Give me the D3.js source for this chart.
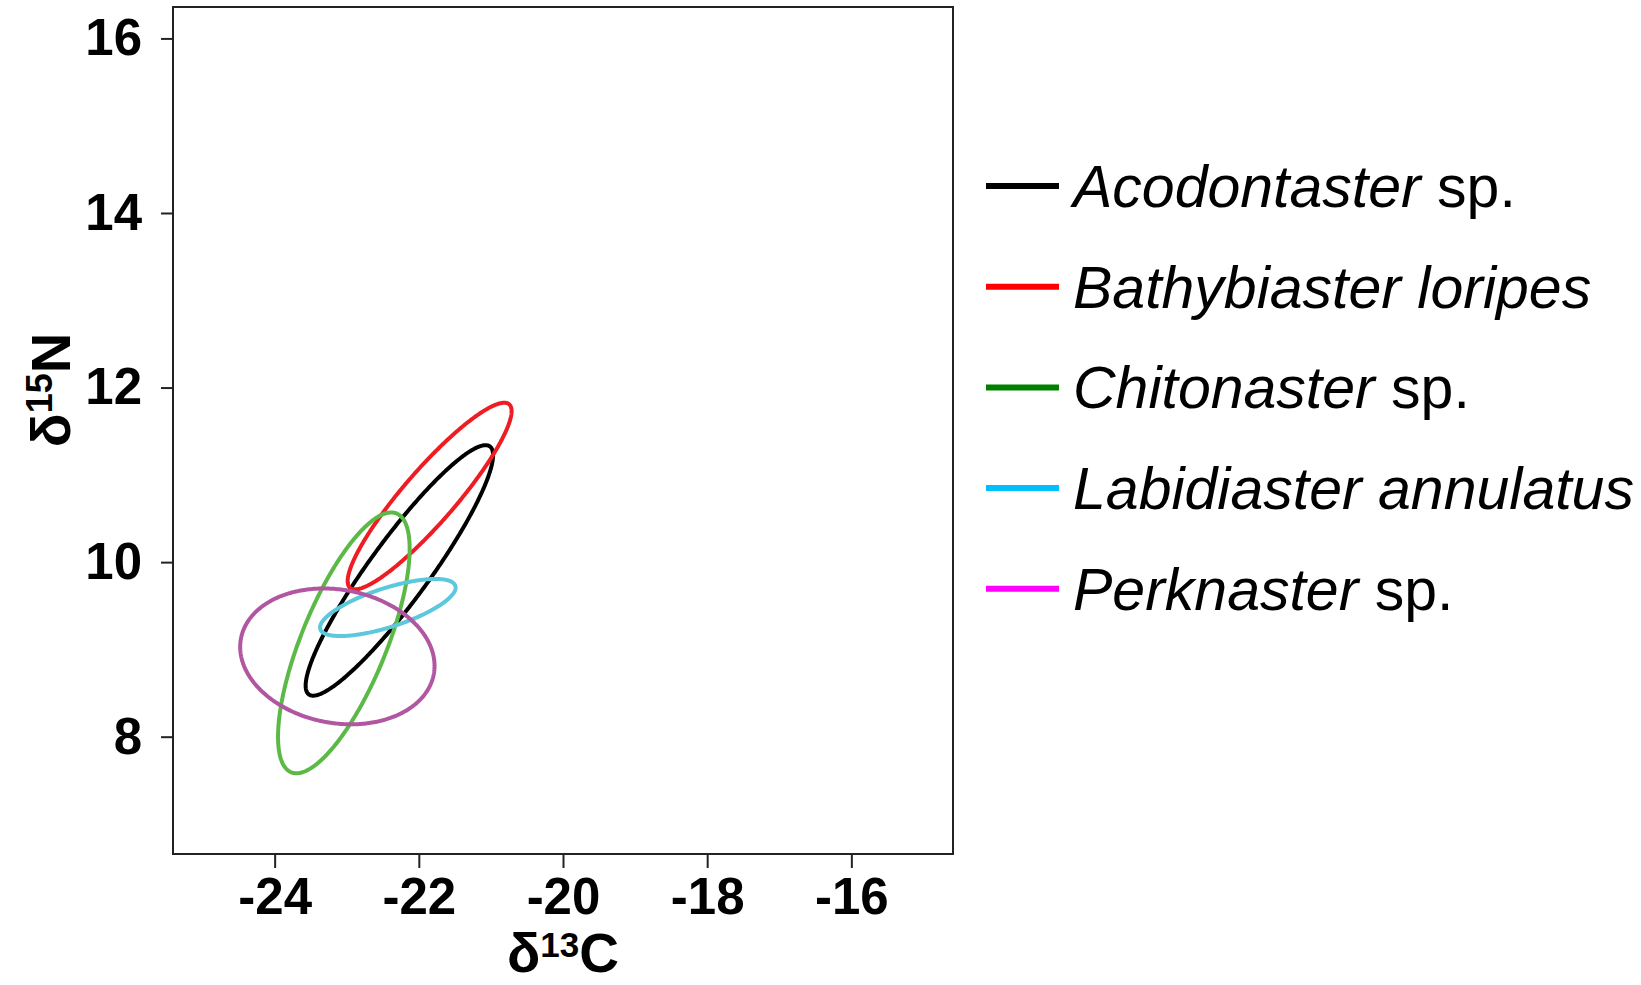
<!DOCTYPE html>
<html lang="en">
<head>
  <meta charset="UTF-8">
  <title>Standard ellipses, d13C vs d15N</title>
  <script src="https://d3js.org/d3.v7.min.js"></script>
  <style>
    body { margin: 0; background: #fff; }
    svg { display: block; font-family: "Liberation Sans", Arial, sans-serif; }
  </style>
</head>
<body>
  <svg width="1641" height="985"></svg>

  <script>
    // genus / species names, and whether "sp." follows
    const genus = ["Acodontaster", "Bathybiaster loripes", "Chitonaster", "Labidiaster annulatus", "Perknaster"];
    const hasSp = [true, false, true, false, true];

    // ellipse parameters (means, sd, correlation)
    const meanC = [-22.27, -21.85, -23.04, -22.43, -23.13];
    const meanN = [9.905, 10.757, 9.075, 9.48, 8.92];
    const sdC = [1.30, 1.137, 0.913, 0.94, 1.348];
    const sdN = [1.435, 1.069, 1.494, 0.327, 0.778];
    const rho = [0.92, 0.91, 0.72, 0.70, -0.14];

    const ellipseColor = ["#000000", "#EE1D23", "#5CB947", "#5BC8DB", "#B157A2"];
    const legendColor = ["#000000", "#FF0000", "#008000", "#00BFFF", "#FF00FF"];

    const xTicks = [-24, -22, -20, -18, -16];
    const yTicks = [8, 10, 12, 14, 16];

    const svg = d3.select("svg");
    const plot = { left: 173, right: 953, top: 7, bottom: 854 };

    const x = d3.scaleLinear()
      .domain([-25.41, -14.59])
      .range([plot.left, plot.right]);

    const y = d3.scaleLinear()
      .domain([6.656, 16.36])
      .range([plot.bottom, plot.top]);

    // axes (plain hyphen for negatives, like the original)
    const xAxis = svg.append("g")
      .attr("transform", `translate(0,${plot.bottom})`)
      .call(d3.axisBottom(x).tickValues(xTicks).tickSize(14).tickPadding(10).tickFormat(d => String(d)));
    xAxis.select(".domain").remove();
    xAxis.selectAll("line").attr("stroke", "#222").attr("stroke-width", 2);
    xAxis.selectAll("text")
      .attr("font-size", 51)
      .attr("font-weight", "bold")
      .attr("fill", "#000")
      .attr("font-family", "Liberation Sans, Arial, sans-serif");

    const yAxis = svg.append("g")
      .attr("transform", `translate(${plot.left},0)`)
      .call(d3.axisLeft(y).tickValues(yTicks).tickSize(12).tickPadding(19).tickFormat(d => String(d)));
    yAxis.select(".domain").remove();
    yAxis.selectAll("line").attr("stroke", "#222").attr("stroke-width", 2);
    yAxis.selectAll("text")
      .attr("font-size", 51)
      .attr("font-weight", "bold")
      .attr("fill", "#000")
      .attr("font-family", "Liberation Sans, Arial, sans-serif");

    // frame
    svg.append("rect")
      .attr("x", plot.left)
      .attr("y", plot.top)
      .attr("width", plot.right - plot.left)
      .attr("height", plot.bottom - plot.top)
      .attr("fill", "none")
      .attr("stroke", "#222")
      .attr("stroke-width", 2);

    // axis titles
    const xTitle = svg.append("text")
      .attr("x", (plot.left + plot.right) / 2)
      .attr("y", 972)
      .attr("text-anchor", "middle")
      .attr("font-size", 55)
      .attr("font-weight", "bold");
    xTitle.append("tspan").text("δ");
    xTitle.append("tspan").attr("font-size", 35).attr("dy", -15).text("13");
    xTitle.append("tspan").attr("dy", 15).text("C");

    const yTitle = svg.append("text")
      .attr("transform", "translate(70,390) rotate(-90)")
      .attr("text-anchor", "middle")
      .attr("font-size", 56)
      .attr("font-weight", "bold");
    yTitle.append("tspan").text("δ");
    yTitle.append("tspan").attr("font-size", 36).attr("dy", -18).text("15");
    yTitle.append("tspan").attr("dy", 18).text("N");

    // ellipses
    const angles = d3.range(0, 2 * Math.PI, Math.PI / 180);
    const line = d3.line()
      .x(d => x(d[0]))
      .y(d => y(d[1]))
      .curve(d3.curveLinearClosed);

    genus.forEach((g, i) => {
      const pts = angles.map(t => [
        meanC[i] + sdC[i] * Math.cos(t),
        meanN[i] + sdN[i] * (rho[i] * Math.cos(t) + Math.sqrt(1 - rho[i] * rho[i]) * Math.sin(t))
      ]);
      svg.append("path")
        .attr("d", line(pts))
        .attr("fill", "none")
        .attr("stroke", ellipseColor[i])
        .attr("stroke-width", 4);
    });

    // legend
    const legend = svg.append("g").attr("transform", "translate(986,186)");
    genus.forEach((g, i) => {
      const row = legend.append("g").attr("transform", `translate(0,${i * 100.7})`);
      row.append("line")
        .attr("x1", 0).attr("x2", 73)
        .attr("stroke", legendColor[i])
        .attr("stroke-width", 6);
      const t = row.append("text")
        .attr("x", 87)
        .attr("y", 21)
        .attr("font-size", 59);
      t.append("tspan").attr("font-style", "italic").text(g);
      if (hasSp[i]) t.append("tspan").text(" sp.");
    });
  </script>
</body>
</html>
